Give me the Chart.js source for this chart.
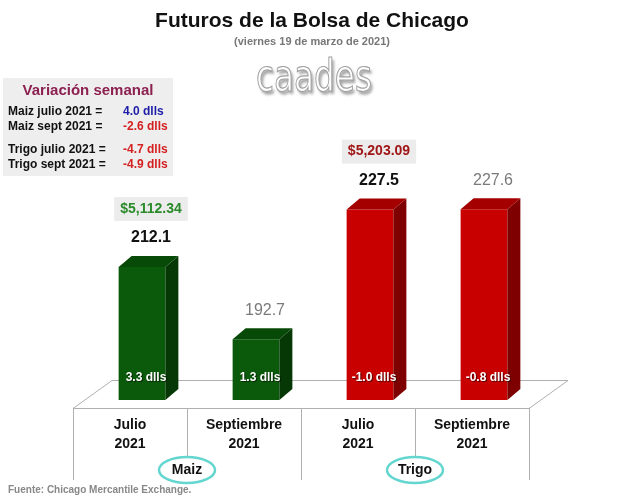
<!DOCTYPE html>
<html><head><meta charset="utf-8">
<script src="https://cdn.jsdelivr.net/npm/chart.js@4"></script>
<style>html,body{margin:0;padding:0;background:#fff}#wrap{width:628px;height:503px;position:relative}</style>
</head><body><div id="wrap"><canvas id="c" width="628" height="503"></canvas></div>
<script>
// ---- data ----
const categories = ['Julio 2021', 'Septiembre 2021', 'Julio 2021', 'Septiembre 2021'];
const tickLabels = [['Julio', '2021'], ['Septiembre', '2021'], ['Julio', '2021'], ['Septiembre', '2021']];
const prices = [212.1, 192.7, 227.5, 227.6];
const weeklyChange = ['3.3 dlls', '1.3 dlls', '-1.0 dlls', '-0.8 dlls'];
const groupNames = ['Maiz', 'Trigo'];
const groupTotals = ['$5,112.34', '$5,203.09'];
const weeklyRows = ['Maiz julio 2021 =', 'Maiz sept 2021 =', 'Trigo julio 2021 =', 'Trigo sept 2021 ='];
const weeklyValues = ['4.0 dlls', '-2.6 dlls', '-4.7 dlls', '-4.9 dlls'];

// ---- styles ----
const frontColors = ['#0b5a0b', '#0b5a0b', '#c80000', '#c80000'];
const sideColors = ['#053805', '#053805', '#7e0000', '#7e0000'];
const topColors = ['#074a07', '#074a07', '#a40000', '#a40000'];
const priceColors = ['#111', '#7a7a7a', '#111', '#7a7a7a'];
const totalColors = ['#2a8a2a', '#a01515'];
const weeklyColors = ['#1c1ca8', '#d42020', '#d42020', '#d42020'];
const DX = 13, DY = -11;      // bar depth
const FX = 12, FY = 8;        // front edge offset from bar plane
const BX = 27, BY = -20;      // back edge offset from bar plane
const F = '"Liberation Sans", Arial, sans-serif';

const scene = {
  id: 'scene',
  beforeDraw(chart) {
    const ctx = chart.ctx;
    ctx.save();
    ctx.fillStyle = '#fff';
    ctx.fillRect(0, 0, chart.width, chart.height);
    ctx.textAlign = 'center';
    ctx.textBaseline = 'middle';
    ctx.fillStyle = '#111';
    ctx.font = 'bold 21px ' + F;
    ctx.fillText('Futuros de la Bolsa de Chicago', 312, 21);
    ctx.fillStyle = '#777';
    ctx.font = 'bold 11px ' + F;
    ctx.fillText('(viernes 19 de marzo de 2021)', 312, 42);

    // logo
    ctx.save();
    ctx.font = '44px "DejaVu Sans", sans-serif';
    const w = ctx.measureText('caades').width;
    ctx.translate(314, 80);
    ctx.scale(116 / w, 1);
    ctx.shadowColor = 'rgba(0,0,0,0.4)';
    ctx.shadowOffsetX = 2; ctx.shadowOffsetY = 3; ctx.shadowBlur = 3;
    ctx.fillStyle = '#fff';
    ctx.fillText('caades', 0, 0);
    ctx.shadowColor = 'transparent';
    ctx.strokeStyle = '#a0a0a0';
    ctx.lineWidth = 1.2;
    ctx.strokeText('caades', 0, 0);
    ctx.restore();

    // weekly box
    ctx.fillStyle = '#eeeeee';
    ctx.fillRect(3, 78, 170, 98);
    ctx.fillStyle = '#8c2050';
    ctx.font = 'bold 15px ' + F;
    ctx.fillText('Variación semanal', 88, 91);
    ctx.font = 'bold 12px ' + F;
    const ys = [112, 127, 150, 165];
    weeklyRows.forEach((r, i) => {
      ctx.textAlign = 'left';
      ctx.fillStyle = '#111';
      ctx.fillText(r, 8, ys[i]);
      ctx.fillStyle = weeklyColors[i];
      ctx.fillText(weeklyValues[i], 123, ys[i]);
    });
    ctx.restore();
  },
  beforeDatasetsDraw(chart) {
    const ctx = chart.ctx, a = chart.chartArea, xs = chart.scales.x;
    const L = a.left, R = a.right, B = a.bottom;
    ctx.save();
    ctx.strokeStyle = '#b0b0b0';
    ctx.lineWidth = 1;
    ctx.beginPath();
    ctx.moveTo(L - FX, B + FY + 0.5);
    ctx.lineTo(R - FX, B + FY + 0.5);
    ctx.lineTo(R + BX, B + BY + 0.5);
    ctx.lineTo(L + BX, B + BY + 0.5);
    ctx.closePath();
    ctx.fillStyle = '#fff';
    ctx.fill();
    ctx.stroke();
    // category separators below front edge
    const n = categories.length;
    const step = (xs.getPixelForValue(1) - xs.getPixelForValue(0));
    for (let i = 0; i <= n; i++) {
      const x = Math.round(xs.getPixelForValue(0) - step / 2 + i * step - FX) + 0.5;
      const long = (i % 2 === 0);
      ctx.beginPath();
      ctx.moveTo(x, B + FY);
      ctx.lineTo(x, long ? B + FY + 72 : B + FY + 49);
      ctx.stroke();
    }
    ctx.restore();
  },
  afterDatasetsDraw(chart) {
    const ctx = chart.ctx, meta = chart.getDatasetMeta(0), xs = chart.scales.x, a = chart.chartArea;
    ctx.save();
    meta.data.forEach((bar, i) => {
      const p = bar.getProps(['x', 'y', 'base', 'width'], true);
      const x = p.x, y = p.y, width = p.width;
      const base = Math.min(p.base, a.bottom);
      const l = x - width / 2, r = x + width / 2;
      // side
      ctx.fillStyle = sideColors[i];
      ctx.beginPath();
      ctx.moveTo(r, y); ctx.lineTo(r + DX, y + DY); ctx.lineTo(r + DX, base + DY); ctx.lineTo(r, base);
      ctx.closePath(); ctx.fill();
      // top
      ctx.fillStyle = topColors[i];
      ctx.beginPath();
      ctx.moveTo(l, y); ctx.lineTo(l + DX, y + DY); ctx.lineTo(r + DX, y + DY); ctx.lineTo(r, y);
      ctx.closePath(); ctx.fill();

      ctx.textAlign = 'center';
      ctx.textBaseline = 'middle';
      // price label
      ctx.fillStyle = priceColors[i];
      ctx.font = (i % 2 === 0 ? 'bold ' : '') + '16px ' + F;
      const py = y - 29;
      ctx.fillText(prices[i].toFixed(1), x + 9, py);
      // group total
      if (i % 2 === 0) {
        const g = i / 2;
        ctx.font = 'bold 14px ' + F;
        const tw = ctx.measureText(groupTotals[g]).width + 12;
        ctx.fillStyle = '#ececec';
        ctx.fillRect(x + 9 - tw / 2, py - 41, tw, 24);
        ctx.fillStyle = totalColors[g];
        ctx.fillText(groupTotals[g], x + 9, py - 29);
      }
      // weekly change in bar
      ctx.font = 'bold 12px ' + F;
      ctx.shadowColor = 'rgba(0,0,0,0.6)';
      ctx.shadowOffsetX = 1; ctx.shadowOffsetY = 1; ctx.shadowBlur = 1;
      ctx.fillStyle = '#fff';
      ctx.fillText(weeklyChange[i], x + 4, base - 22);
      ctx.shadowColor = 'transparent';
      // tick labels
      ctx.fillStyle = '#111';
      ctx.font = 'bold 14px ' + F;
      tickLabels[i].forEach((t, k) => ctx.fillText(t, xs.getPixelForValue(i) - FX, a.bottom + 25 + k * 19));
    });
    // group labels
    groupNames.forEach((g, k) => {
      const cx = (xs.getPixelForValue(2 * k) + xs.getPixelForValue(2 * k + 1)) / 2 - FX;
      const cy = a.bottom + 70;
      ctx.beginPath();
      ctx.ellipse(cx, cy, 28, 13, 0, 0, Math.PI * 2);
      ctx.fillStyle = '#fff';
      ctx.fill();
      ctx.strokeStyle = '#63d6cf';
      ctx.lineWidth = 2.5;
      ctx.stroke();
      ctx.fillStyle = '#111';
      ctx.font = 'bold 14px ' + F;
      ctx.fillText(g, cx, cy);
    });
    ctx.textAlign = 'left';
    ctx.fillStyle = '#888';
    ctx.font = 'bold 10px ' + F;
    ctx.fillText('Fuente: Chicago Mercantile Exchange.', 8, 490);
    ctx.restore();
  }
};

new Chart(document.getElementById('c'), {
  type: 'bar',
  data: {
    labels: categories,
    datasets: [{
      data: prices,
      backgroundColor: frontColors,
      borderWidth: 0,
      barPercentage: 0.41,
      categoryPercentage: 1
    }]
  },
  options: {
    responsive: false,
    animation: false,
    devicePixelRatio: 1,
    layout: { padding: { left: 85, right: 87, top: 150, bottom: 103 } },
    scales: {
      x: { display: false },
      y: { display: false, min: 176.4, max: 243.5 }
    },
    plugins: { legend: { display: false }, tooltip: { enabled: false } }
  },
  plugins: [scene]
});
</script></body></html>
